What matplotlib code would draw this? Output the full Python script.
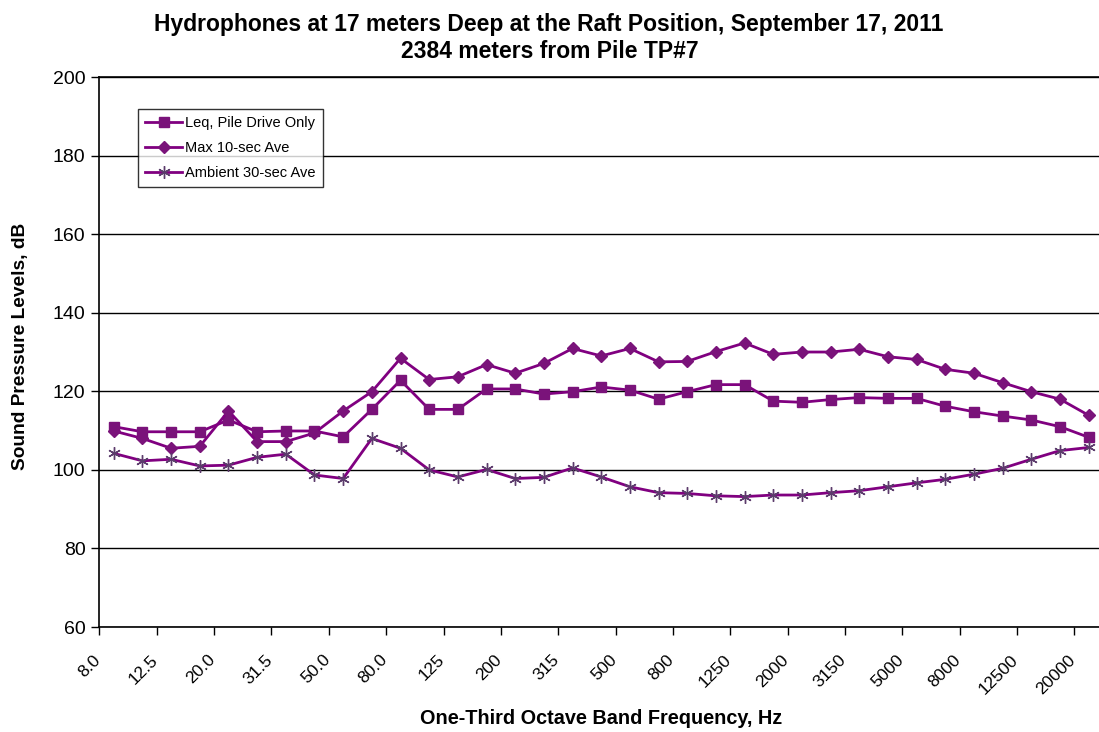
import numpy as np
import matplotlib
matplotlib.use('Agg')
import matplotlib.pyplot as plt

plt.rcParams['font.family'] = ['Liberation Sans', 'DejaVu Sans']

# one-third octave band centre frequencies (Hz)
bands = ['8.0', '10.0', '12.5', '16.0', '20.0', '25.0', '31.5', '40.0', '50.0', '63.0',
         '80.0', '100', '125', '160', '200', '250', '315', '400', '500', '630',
         '800', '1000', '1250', '1600', '2000', '2500', '3150', '4000', '5000', '6300',
         '8000', '10000', '12500', '16000', '20000']

# sound pressure levels, dB
leq = [111.0, 109.7, 109.7, 109.7, 112.7, 109.7, 109.9, 109.9, 108.4, 115.4,
       122.8, 115.4, 115.4, 120.6, 120.6, 119.3, 119.9, 121.1, 120.3, 118.0,
       119.9, 121.7, 121.7, 117.5, 117.2, 117.9, 118.4, 118.2, 118.2, 116.2,
       114.8, 113.7, 112.7, 111.0, 108.3]
max10 = [109.9, 108.0, 105.5, 106.0, 115.0, 107.2, 107.2, 109.4, 115.0, 119.9,
         128.4, 123.0, 123.7, 126.8, 124.6, 127.1, 130.9, 129.0, 130.9, 127.5,
         127.6, 130.1, 132.3, 129.4, 130.0, 130.0, 130.7, 128.8, 128.1, 125.6,
         124.6, 122.2, 119.9, 118.0, 113.9]
ambient = [104.2, 102.3, 102.7, 101.0, 101.2, 103.2, 104.0, 98.7, 97.8, 108.0,
           105.5, 100.0, 98.2, 100.1, 97.8, 98.1, 100.5, 98.2, 95.7, 94.2,
           94.0, 93.4, 93.2, 93.6, 93.6, 94.2, 94.7, 95.7, 96.7, 97.6,
           98.9, 100.4, 102.7, 104.9, 105.7]

x = np.arange(len(bands))
purple = '#800080'

fig = plt.figure(figsize=(10.99, 7.32), dpi=100)
ax = fig.add_axes([0.0905, 0.1434, 0.9131, 0.7514])

ax.plot(x, leq, color=purple, lw=2, marker='s', ms=7, mfc='#7a137a', mec='#7a137a',
        label='Leq, Pile Drive Only', zorder=3)
ax.plot(x, max10, color=purple, lw=2, marker='D', ms=6, mfc='#7a137a', mec='#7a137a',
        label='Max 10-sec Ave', zorder=3)
ax.plot(x, ambient, color=purple, lw=2, marker=(6, 2, 0), ms=9, mec='#5c3c6c', mew=1,
        label='Ambient 30-sec Ave', zorder=3)

ax.set_xlim(-0.5, len(bands) - 0.5)
ax.set_ylim(60, 200)
ax.set_yticks(np.arange(60, 201, 20))
ax.yaxis.grid(True, color='black', lw=1)
ax.set_axisbelow(True)

# tick marks between categories, labels every other band
ax.set_xticks(np.arange(-0.5, len(bands) - 1, 2))
ax.set_xticklabels([])
ax.set_xticks(x[::2] - 0.35, minor=True)
ax.set_xticklabels(bands[::2], minor=True, rotation=45, ha='right', va='top', fontsize=12.5)
ax.tick_params(axis='x', which='major', direction='out', length=6, width=1)
ax.tick_params(axis='x', which='minor', length=0, pad=18)
ax.tick_params(axis='y', direction='out', length=6, width=1, labelsize=14, pad=4)

ax.spines['right'].set_visible(False)
for s in ['left', 'bottom', 'top']:
    ax.spines[s].set_linewidth(1.2)

leg = ax.legend(loc='upper left', bbox_to_anchor=(0.0384, 0.942), borderaxespad=0,
                fontsize=10.5, frameon=True, fancybox=False, edgecolor='black',
                handlelength=2.5, borderpad=0.5, labelspacing=0.75, handletextpad=0.25)
leg.get_frame().set_linewidth(1)

fig.text(0.499, 0.967, 'Hydrophones at 17 meters Deep at the Raft Position, September 17, 2011',
         ha='center', va='center', fontsize=16.5, fontweight='bold')
fig.text(0.5, 0.929, '2384 meters from Pile TP#7', ha='center', va='center',
         fontsize=16.5, fontweight='bold')
fig.text(0.547, 0.019, 'One-Third Octave Band Frequency, Hz', ha='center', va='center',
         fontsize=14.3, fontweight='bold')
fig.text(0.019, 0.527, 'Sound Pressure Levels, dB', ha='center', va='center',
         rotation=90, fontsize=13.8, fontweight='bold')

plt.savefig('out.png', dpi=100)
